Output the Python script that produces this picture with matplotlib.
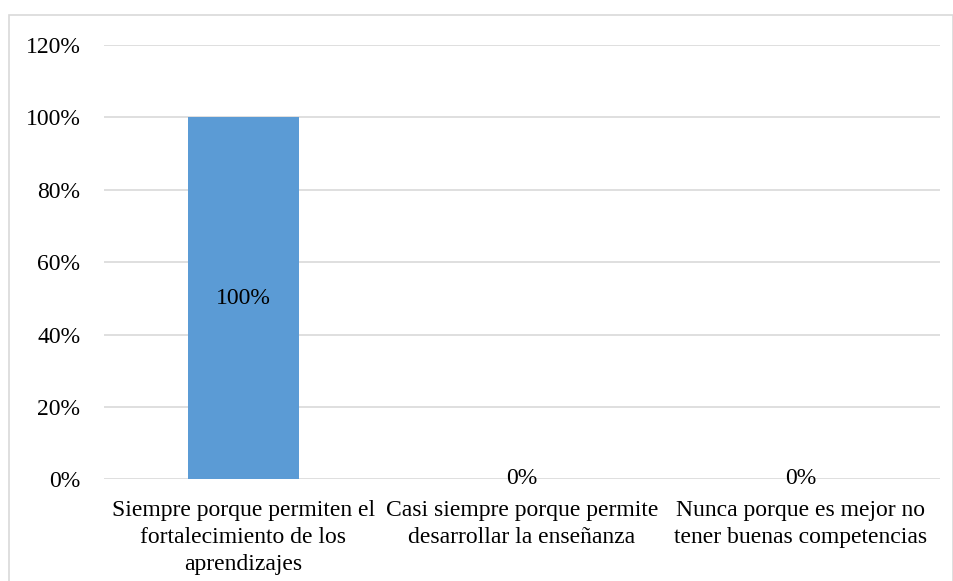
import matplotlib.pyplot as plt
from matplotlib.patches import Rectangle

categories = ['Siempre porque permiten el\nfortalecimiento de los\naprendizajes',
              'Casi siempre porque permite\ndesarrollar la enseñanza',
              'Nunca porque es mejor no\ntener buenas competencias']
values = [1.0, 0.0, 0.0]
yticks = [0, 0.2, 0.4, 0.6, 0.8, 1.0, 1.2]

plt.rcParams['font.family'] = ['Liberation Serif', 'DejaVu Serif']

fig = plt.figure(figsize=(9.54, 5.81), dpi=100)
ax = fig.add_axes([0.109, 0.1747, 0.876, 0.7478])

x = range(len(categories))
bars = ax.bar(x, values, width=0.4, color='#5B9BD5', zorder=3)

for xi, v in zip(x, values):
    if v > 0:
        ax.text(xi, v / 2, f'{v:.0%}', ha='center', va='center', fontsize=17, zorder=4)
    else:
        ax.text(xi, 0.003, f'{v:.0%}', ha='center', va='center', fontsize=17, zorder=4)

ax.set_xlim(-0.5, 2.5)
ax.set_ylim(0, 1.2)
ax.set_yticks(yticks)
ax.set_yticklabels([f'{t:.0%}' for t in yticks], fontsize=17)
ax.set_xticks(list(x))
ax.set_xticklabels(categories, fontsize=17, linespacing=1.38)
ax.tick_params(length=0)
ax.tick_params(axis='y', pad=17)
ax.tick_params(axis='x', pad=14.5)
ax.grid(axis='y', color='#D9D9D9', linewidth=1.2, zorder=0)
for s in ax.spines.values():
    s.set_visible(False)

fig.patches.append(Rectangle((9 / 954, -0.01), 944 / 954, 1 - 15 / 581 + 0.01,
                             transform=fig.transFigure, fill=False,
                             edgecolor='#D9D9D9', linewidth=1.2))

fig.savefig('out.png', dpi=100)
